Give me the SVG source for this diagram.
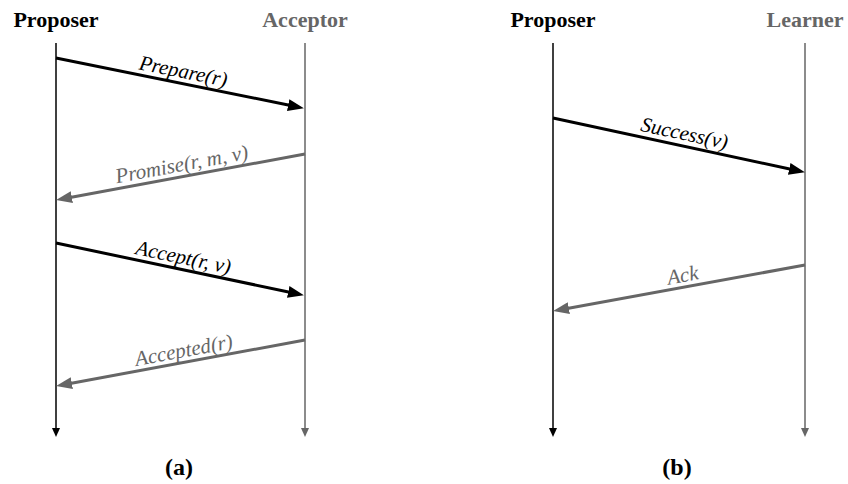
<svg xmlns="http://www.w3.org/2000/svg" width="848" height="484" viewBox="0 0 848 484">
<defs>
<style>
.life{stroke-width:1.5;fill:none}
.msg{stroke-width:3;fill:none}
</style>
<marker id="hb" markerUnits="userSpaceOnUse" markerWidth="16" markerHeight="12" refX="10" refY="6" orient="auto"><path d="M0,0 L16,6 L0,12 Z" fill="#000"/></marker>
<marker id="hg" markerUnits="userSpaceOnUse" markerWidth="16" markerHeight="12" refX="10" refY="6" orient="auto"><path d="M0,0 L16,6 L0,12 Z" fill="#666"/></marker>
<marker id="sb" markerUnits="userSpaceOnUse" markerWidth="9" markerHeight="8" refX="5" refY="4" orient="auto"><path d="M0,0 L9,4 L0,8 Z" fill="#000"/></marker>
<marker id="sg" markerUnits="userSpaceOnUse" markerWidth="9" markerHeight="8" refX="5" refY="4" orient="auto"><path d="M0,0 L9,4 L0,8 Z" fill="#666"/></marker>
</defs>
<rect width="848" height="484" fill="#fff"/>

<g font-family="'Liberation Serif', 'Times New Roman', serif" font-weight="bold" font-size="22" text-anchor="middle">
<g id="proposer-a">
<text x="56" y="27" fill="#000">Proposer</text>
<line class="life" x1="56" y1="43" x2="56" y2="433" stroke="#000" marker-end="url(#sb)"/>
</g>
<g id="acceptor">
<text x="305" y="27" fill="#666">Acceptor</text>
<line class="life" x1="305" y1="43" x2="305" y2="433" stroke="#666" marker-end="url(#sg)"/>
</g>
<g id="proposer-b">
<text x="553" y="27" fill="#000">Proposer</text>
<line class="life" x1="553" y1="43" x2="553" y2="433" stroke="#000" marker-end="url(#sb)"/>
</g>
<g id="learner">
<text x="805" y="27" fill="#666">Learner</text>
<line class="life" x1="805" y1="43" x2="805" y2="433" stroke="#666" marker-end="url(#sg)"/>
</g>
<text x="179" y="475" fill="#000" font-size="24">(a)</text>
<text x="677" y="475" fill="#000" font-size="24">(b)</text>
</g>

<g id="connectors">
<line class="msg" x1="56" y1="58" x2="298" y2="107" stroke="#000" marker-end="url(#hb)"/>
<line class="msg" x1="305" y1="154" x2="62" y2="199" stroke="#666" marker-end="url(#hg)"/>
<line class="msg" x1="56" y1="243" x2="298" y2="294" stroke="#000" marker-end="url(#hb)"/>
<line class="msg" x1="305" y1="340" x2="62" y2="385" stroke="#666" marker-end="url(#hg)"/>
<line class="msg" x1="553" y1="118" x2="799" y2="171" stroke="#000" marker-end="url(#hb)"/>
<line class="msg" x1="805" y1="265" x2="559" y2="310" stroke="#666" marker-end="url(#hg)"/>
<g font-family="'Liberation Serif', 'Times New Roman', serif" font-style="italic" font-size="21" text-anchor="middle">
<text x="182" y="78" fill="#000" transform="rotate(11.4 182 78)">Prepare(r)</text>
<text x="183" y="171" fill="#666" transform="rotate(-10.5 183 171)">Promise(r, m, v)</text>
<text x="182" y="264" fill="#000" transform="rotate(11.8 182 264)">Accept(r, v)</text>
<text x="185" y="357" fill="#666" transform="rotate(-10.5 185 357)">Accepted(r)</text>
<text x="683" y="140" fill="#000" transform="rotate(12 683 140)">Success(v)</text>
<text x="684" y="282" fill="#666" transform="rotate(-10.3 684 282)">Ack</text>
</g>
</g>
</svg>
